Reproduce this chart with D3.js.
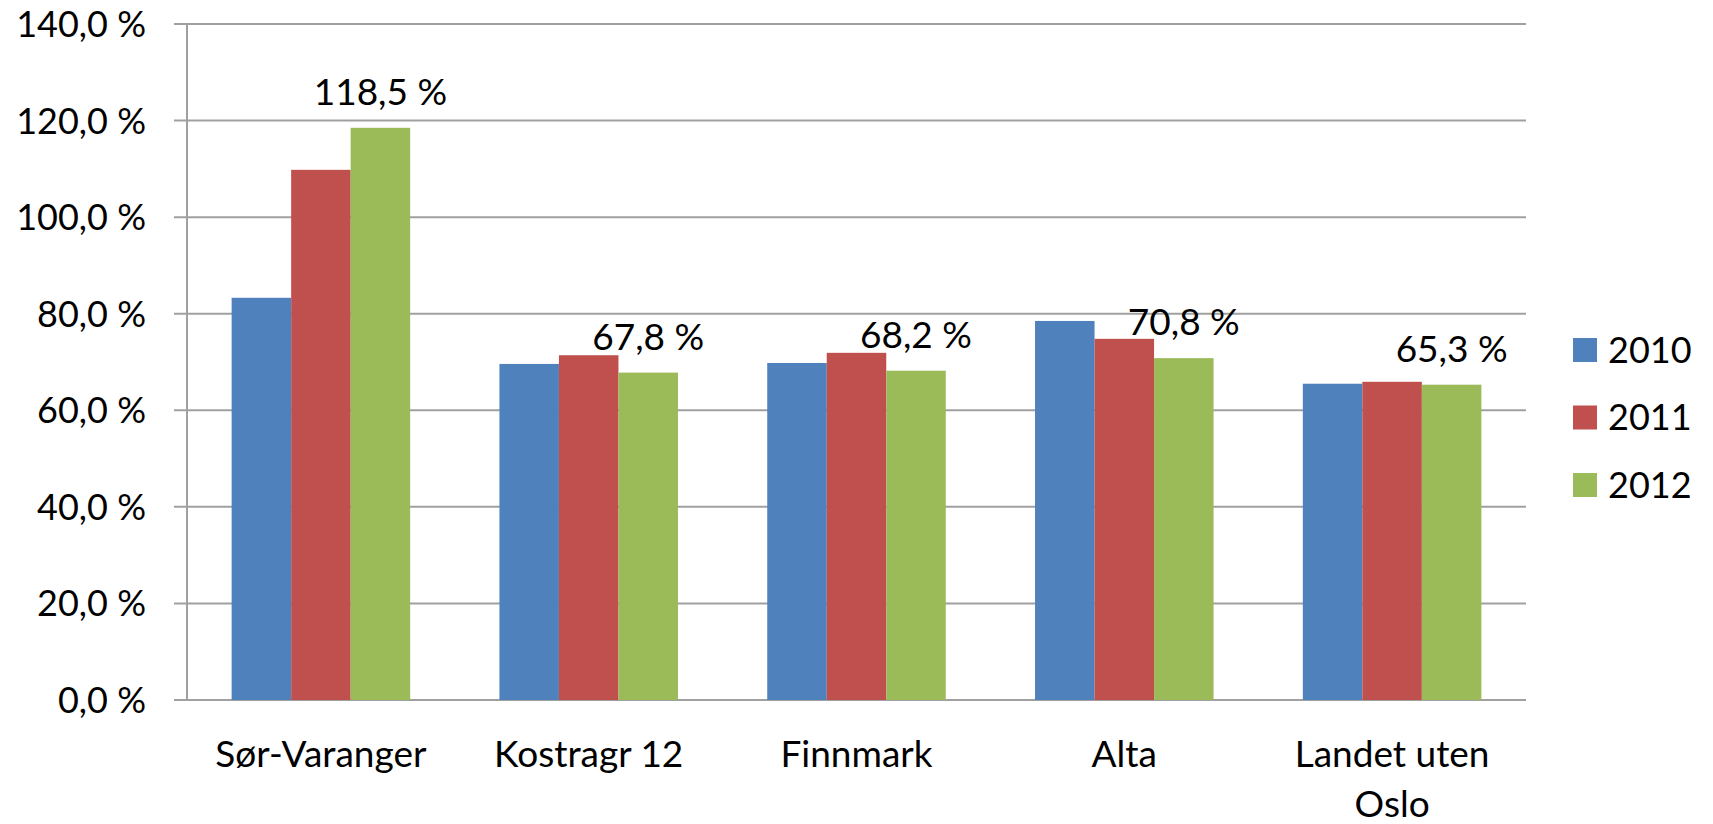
<!DOCTYPE html>
<html>
<head>
<meta charset="utf-8">
<script src="https://cdn.jsdelivr.net/npm/d3@7"></script>
<style>
html,body{margin:0;padding:0;background:#fff;}
svg{display:block;}
text{font-family:Lato, "Open Sans", sans-serif;fill:#000;}
</style>
</head>
<body>
<script>
const categories = ["Sør-Varanger", "Kostragr 12", "Finnmark", "Alta", "Landet uten Oslo"];
const seriesNames = ["2010", "2011", "2012"];
const values2010 = [83.3, 69.6, 69.8, 78.5, 65.5];
const values2011 = [109.8, 71.4, 71.9, 74.8, 65.9];
const values2012 = [118.5, 67.8, 68.2, 70.8, 65.3];
const yTicks = [0, 20, 40, 60, 80, 100, 120, 140];
const colors = ["#4F81BD", "#C0504D", "#9BBB59"];

const W = 1713, H = 824;
const svg = d3.select("body").append("svg").attr("width", W).attr("height", H);

const plotLeft = 187, plotRight = 1526, plotTop = 24, plotBottom = 700;
const fs = 36, fsCat = 37;

const x = d3.scaleBand().domain(categories).range([plotLeft, plotRight])
  .paddingInner(1/3).paddingOuter(1/6);
const xs = d3.scaleBand().domain(seriesNames).range([0, x.bandwidth()]).padding(0);
const y = d3.scaleLinear().domain([0, 140]).range([plotBottom, plotTop]);

const fmt = v => d3.format(".1f")(v).replace(".", ",") + " %";

// gridlines
svg.append("g").selectAll("line").data(yTicks).join("line")
  .attr("x1", plotLeft - 13).attr("x2", plotRight)
  .attr("y1", d => y(d)).attr("y2", d => y(d))
  .attr("stroke", "#a0a0a0").attr("stroke-width", 2);

// y axis line
svg.append("line").attr("x1", plotLeft).attr("x2", plotLeft)
  .attr("y1", plotTop).attr("y2", plotBottom)
  .attr("stroke", "#a0a0a0").attr("stroke-width", 2);

// y tick labels
svg.append("g").selectAll("text").data(yTicks).join("text")
  .attr("x", 146).attr("y", d => y(d)).attr("dy", "0.36em")
  .attr("text-anchor", "end").attr("font-size", fs)
  .text(d => fmt(d));

const seriesData = [values2010, values2011, values2012];
seriesData.forEach((vals, si) => {
  svg.append("g").selectAll("rect").data(categories).join("rect")
    .attr("x", (c) => x(c) + xs(seriesNames[si]))
    .attr("width", xs.bandwidth())
    .attr("y", (c, i) => y(vals[i]))
    .attr("height", (c, i) => y(0) - y(vals[i]))
    .attr("fill", colors[si]);
});

// data labels for 2012
svg.append("g").selectAll("text").data(categories).join("text")
  .attr("x", c => x(c) + xs("2012") + xs.bandwidth() / 2)
  .attr("y", (c, i) => y(values2012[i]) - 23)
  .attr("text-anchor", "middle").attr("font-size", fsCat)
  .text((c, i) => fmt(values2012[i]));

// category labels
const catLines = {"Landet uten Oslo": ["Landet uten", "Oslo"]};
categories.forEach(c => {
  const lines = catLines[c] || [c];
  const t = svg.append("text").attr("text-anchor", "middle").attr("font-size", fsCat);
  lines.forEach((ln, k) => {
    t.append("tspan").attr("x", x(c) + x.bandwidth() / 2)
      .attr("y", 767 + k * 50).text(ln);
  });
});

// legend
const lg = svg.append("g");
seriesNames.forEach((s, i) => {
  const cy = 350 + i * 67.5;
  lg.append("rect").attr("x", 1573).attr("y", cy - 12).attr("width", 24).attr("height", 24)
    .attr("fill", colors[i]);
  lg.append("text").attr("x", 1608).attr("y", cy).attr("dy", "0.36em")
    .attr("font-size", fs).text(s);
});
</script>
</body>
</html>
